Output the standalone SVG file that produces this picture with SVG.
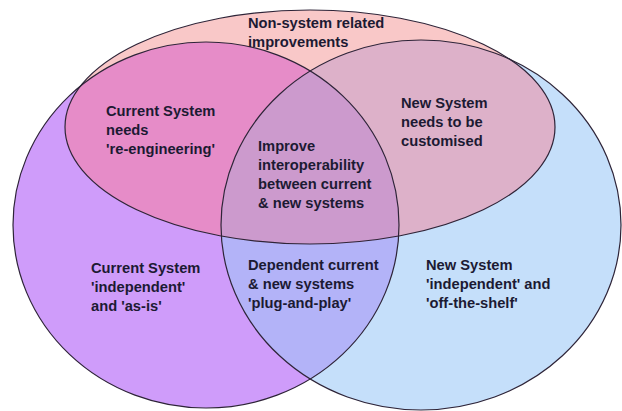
<svg xmlns="http://www.w3.org/2000/svg" width="622" height="411" viewBox="0 0 622 411">
  <defs>
    <clipPath id="clipL"><ellipse cx="206" cy="225" rx="193" ry="183"/></clipPath>
    <clipPath id="clipR"><ellipse cx="421" cy="225" rx="200" ry="185"/></clipPath>
    <clipPath id="clipT"><ellipse cx="310" cy="127" rx="245" ry="117"/></clipPath>
  </defs>
  <style>
    .lbl { font-family: "Liberation Sans", Arial, sans-serif; font-weight: bold; font-size: 14.7px; fill: #1c1a33; }
    .edge { fill: none; stroke: #2e2438; stroke-width: 1.2; }
  </style>
  <rect width="622" height="411" fill="#ffffff"/>

  <g id="regions">
    <g id="left-circle"><ellipse cx="206" cy="225" rx="193" ry="183" fill="#CF9CFA"/></g>
    <g id="right-circle"><ellipse cx="421" cy="225" rx="200" ry="185" fill="#C5DFFA"/></g>
    <g id="top-ellipse"><ellipse cx="310" cy="127" rx="245" ry="117" fill="#F9C8C8"/></g>
    <g id="left-right"><ellipse cx="421" cy="225" rx="200" ry="185" fill="#B3B3F8" clip-path="url(#clipL)"/></g>
    <g id="left-top"><ellipse cx="310" cy="127" rx="245" ry="117" fill="#E68CC8" clip-path="url(#clipL)"/></g>
    <g id="right-top"><ellipse cx="310" cy="127" rx="245" ry="117" fill="#DDB1C9" clip-path="url(#clipR)"/></g>
    <g id="all-three" clip-path="url(#clipR)"><ellipse cx="310" cy="127" rx="245" ry="117" fill="#CC9ACD" clip-path="url(#clipL)"/></g>
  </g>

  <g id="outlines">
    <ellipse class="edge" cx="206" cy="225" rx="193" ry="183"/>
    <ellipse class="edge" cx="421" cy="225" rx="200" ry="185"/>
    <ellipse class="edge" cx="310" cy="127" rx="245" ry="117"/>
  </g>

  <g id="label-nonsystem">
    <text class="lbl" x="248" y="28">Non-system related</text>
    <text class="lbl" x="248" y="47">improvements</text>
  </g>
  <g id="label-current-reeng">
    <text class="lbl" x="106" y="116">Current System</text>
    <text class="lbl" x="106" y="135">needs</text>
    <text class="lbl" x="106" y="154">'re-engineering'</text>
  </g>
  <g id="label-interop">
    <text class="lbl" x="258" y="151">Improve</text>
    <text class="lbl" x="258" y="170">interoperability</text>
    <text class="lbl" x="258" y="189">between current</text>
    <text class="lbl" x="258" y="208">&amp; new systems</text>
  </g>
  <g id="label-new-custom">
    <text class="lbl" x="401" y="108">New System</text>
    <text class="lbl" x="401" y="127">needs to be</text>
    <text class="lbl" x="401" y="146">customised</text>
  </g>
  <g id="label-current-indep">
    <text class="lbl" x="91" y="273">Current System</text>
    <text class="lbl" x="91" y="292">'independent'</text>
    <text class="lbl" x="91" y="311">and 'as-is'</text>
  </g>
  <g id="label-dependent">
    <text class="lbl" x="248" y="270">Dependent current</text>
    <text class="lbl" x="248" y="289">&amp; new systems</text>
    <text class="lbl" x="248" y="308">'plug-and-play'</text>
  </g>
  <g id="label-new-indep">
    <text class="lbl" x="426" y="270">New System</text>
    <text class="lbl" x="426" y="289">'independent' and</text>
    <text class="lbl" x="426" y="308">'off-the-shelf'</text>
  </g>
</svg>
